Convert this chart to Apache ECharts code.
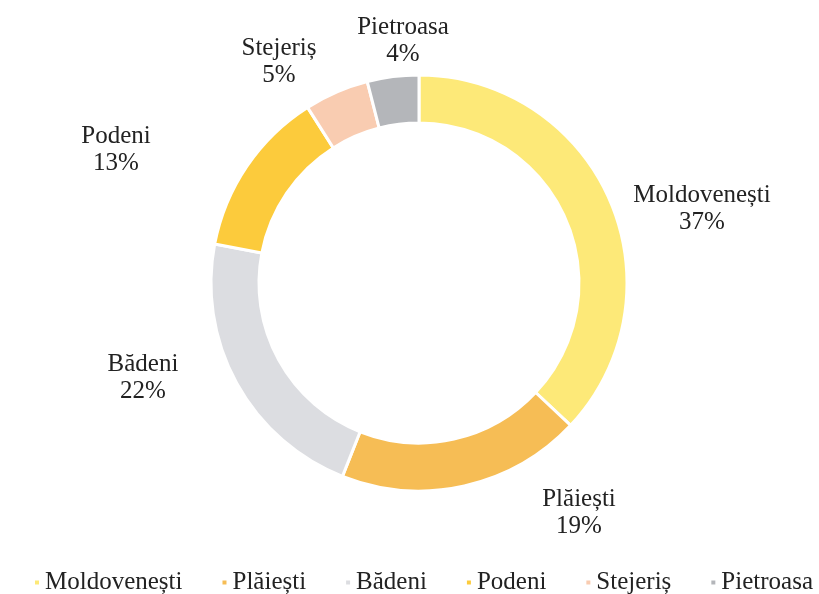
<!DOCTYPE html>
<html>
<head>
<meta charset="utf-8">
<script src="https://cdn.jsdelivr.net/npm/echarts@6/dist/echarts.min.js"></script>
<style>
  html, body { margin: 0; padding: 0; background: #fff; }
  #chart { width: 819px; height: 594px; }
</style>
</head>
<body>
<div id="chart"></div>
<script>
// localități și ponderi (%)
var categories = ['Moldovenești', 'Plăiești', 'Bădeni', 'Podeni', 'Stejeriș', 'Pietroasa'];
var values = [37, 19, 22, 13, 5, 4];
var colors = ['#fde978', '#f6bd55', '#dcdde1', '#fccb3c', '#f9ccb1', '#b4b6ba'];

// unde stau etichetele (centrul blocului de text), ca in original
var labelPos = [[702, 209], [579, 513], [143, 378], [116, 150], [279, 62], [403, 41]];

var chart = echarts.init(document.getElementById('chart'));

var pieData = categories.map(function (name, i) {
    return { name: name, value: values[i] };
});

var option = {
    color: colors,
    textStyle: { fontFamily: 'Liberation Serif' },
    legend: {
        top: 565,
        left: 28,
        icon: 'rect',
        itemWidth: 6,
        itemHeight: 6,
        itemGap: 38,
        textStyle: {
            fontFamily: 'Liberation Serif',
            fontSize: 25,
            color: '#222'
        },
        data: categories
    },
    series: [{
        type: 'pie',
        center: [419, 283],
        radius: [160, 208],
        startAngle: 90,
        clockwise: true,
        avoidLabelOverlap: false,
        itemStyle: {
            borderColor: '#fff',
            borderWidth: 3
        },
        label: {
            show: true,
            position: 'outside',
            formatter: '{b}\n{c}%',
            fontFamily: 'Liberation Serif',
            fontSize: 25,
            lineHeight: 27,
            color: '#222'
        },
        labelLine: { show: false },
        labelLayout: function (params) {
            var p = labelPos[params.dataIndex];
            return {
                x: p[0],
                y: p[1],
                align: 'center',
                verticalAlign: 'middle',
                hideOverlap: false
            };
        },
        data: pieData
    }]
};

chart.setOption(option);
</script>
</body>
</html>
